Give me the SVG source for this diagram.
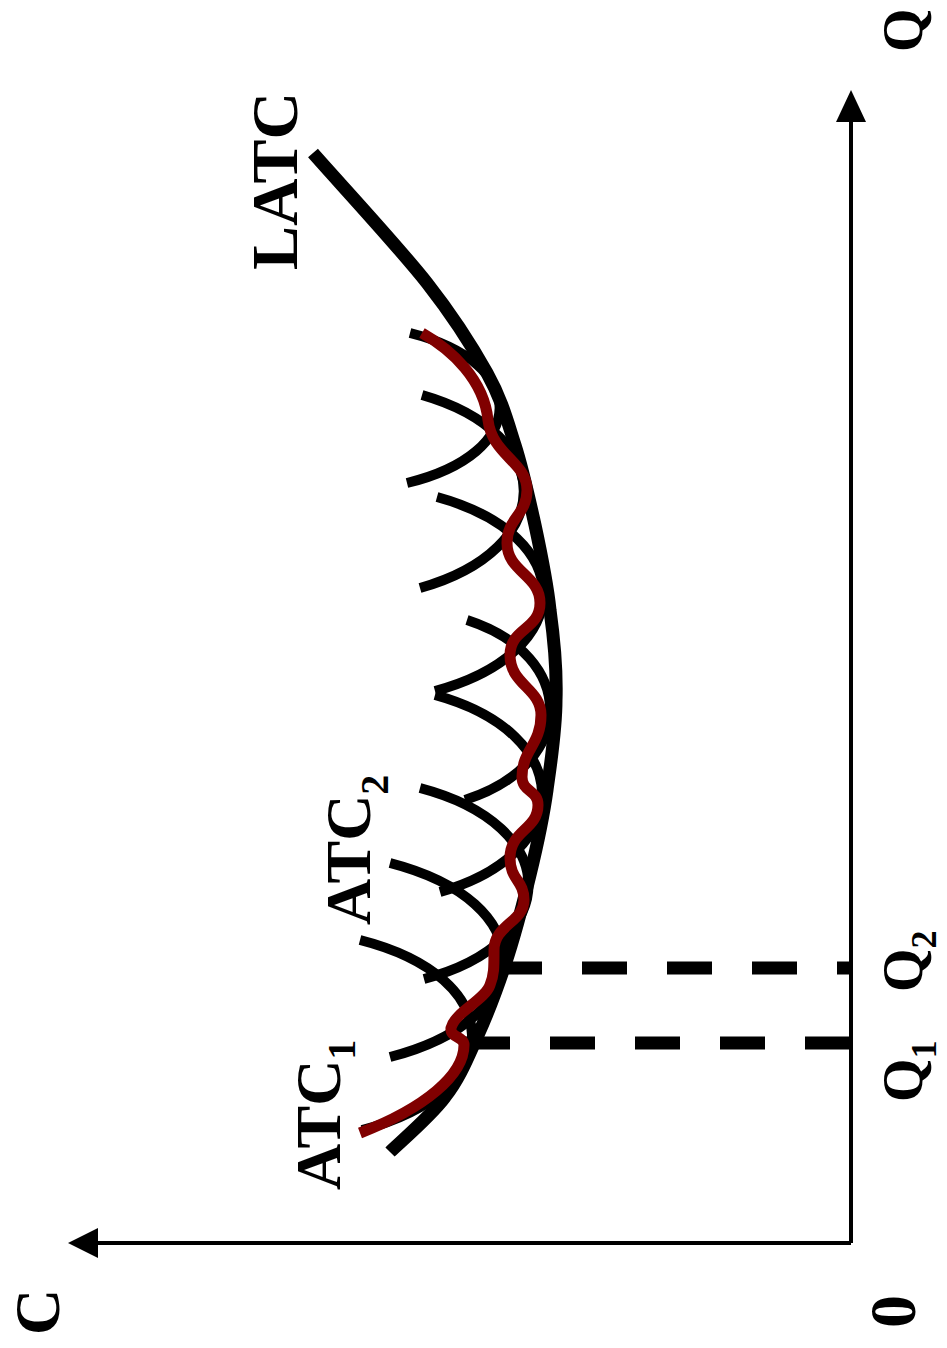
<svg xmlns="http://www.w3.org/2000/svg" width="947" height="1348" viewBox="0 0 947 1348">
<style>
.axis{fill:none;stroke:#000;stroke-width:4}
.head{fill:#000}
.atc{fill:none;stroke:#000;stroke-width:10}
.latc{fill:none;stroke:#000;stroke-width:13}
.red{fill:none;stroke:#800000;stroke-width:11}
.dash{fill:none;stroke:#000;stroke-width:13;stroke-dasharray:45 40}
.lbl{font-family:"Liberation Serif","Times New Roman",serif;font-weight:bold;fill:#000}
</style>
<rect width="947" height="1348" fill="#fff"/>
<g id="axes">
  <path class="axis" d="M851,1243 V118 M851,1243 H94"/>
  <polygon class="head" points="851,90 836,122 866,122"/>
  <polygon class="head" points="68,1243 98,1228 98,1258"/>
</g>
<g id="connectors">
  <path class="dash" d="M497,968 H851"/>
  <path class="dash" d="M465,1043 H851"/>
</g>
<g id="atc-curves">
  <path id="atcA" class="atc" d="M410,333 C530,363 530,453 407,483"/>
  <path id="atcB" class="atc" d="M422,395 C558,434 558,549 420,588"/>
  <path id="atcC" class="atc" d="M437,497 C579,536 579,652 435,691"/>
  <path id="atcD" class="atc" d="M467,620 C578,656 578,764 465,800"/>
  <path id="atcE" class="atc" d="M435,695 C577,734 577,853 440,892"/>
  <path id="atcF" class="atc" d="M420,788 C564,826 564,942 424,979"/>
  <path id="atc2" class="atc" d="M390,863 C541,902 541,1018 390,1057"/>
  <path id="atc1" class="atc" d="M360,940 C509,978 509,1092 362,1130"/>
</g>
<g id="latc">
  <path class="latc" d="M313,153 C332,175 398,246 427,283 C456,320 472,346 487,373 C502,400 507,420 515,445 C523,470 529,498 535,525 C541,553 547,581 550,610 C554,639 557,670 556,700 C556,730 551,761 547,790 C543,819 537,846 530,875 C523,904 514,938 505,965 C496,992 488,1013 478,1035 C468,1057 460,1078 445,1097 C430,1117 399,1143 390,1152"/>
</g>
<g id="envelope">
  <path class="red" d="M422,333 C452,350 484,380 488,420 C492,455 527,462 527,490 C527,515 507,518 507,543 C507,572 540,575 540,603 C540,630 510,628 510,655 C510,685 541,688 541,715 C541,745 522,750 522,777 C522,792 538,790 538,805 C538,830 510,830 510,858 C510,880 524,880 524,900 C524,922 494,925 494,950 C494,968 494,975 490,985 C485,1000 455,1012 451,1028 C450,1038 464,1036 464,1045 C464,1075 425,1108 360,1133"/>
</g>
<g id="labels">
  <text class="lbl" font-size="65" textLength="178" lengthAdjust="spacingAndGlyphs" transform="translate(297,270) rotate(-90)">LATC</text>
  <text class="lbl" font-size="64" transform="translate(370,925) rotate(-90)">ATC<tspan font-size="40" dy="18">2</tspan></text>
  <text class="lbl" font-size="64" transform="translate(340,1190) rotate(-90)">ATC<tspan font-size="40" dy="15">1</tspan></text>
  <text class="lbl" font-size="56" transform="translate(922,1102) rotate(-90)">Q<tspan font-size="36" dy="14">1</tspan></text>
  <text class="lbl" font-size="56" transform="translate(922,992) rotate(-90)">Q<tspan font-size="36" dy="14">2</tspan></text>
  <text class="lbl" font-size="56" transform="translate(922,52) rotate(-90)">Q</text>
  <text class="lbl" font-size="64" transform="translate(59,1335) rotate(-90)">C</text>
  <text class="lbl" font-size="66" transform="translate(915,1328) rotate(-90)">0</text>
</g>
</svg>
